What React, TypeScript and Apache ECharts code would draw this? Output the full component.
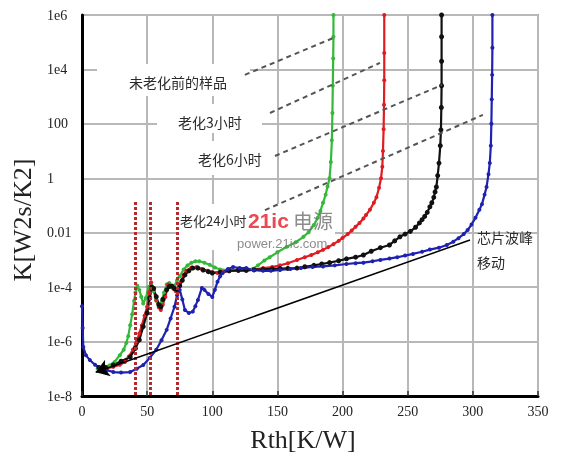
import React, { useEffect, useRef } from "react";
import * as echarts from "echarts";

// x: Rth [K/W], y: log10 of K [W2s/K2]
const yTickLabels = ["1e-8", "1e-6", "1e-4", "0.01", "1", "100", "1e4", "1e6"];

const greenLogK: number[][] = [
  [12, -7.0], [15, -6.97], [18, -6.93], [21, -6.88], [25, -6.75], [29, -6.5], [32, -6.3], [34, -6.05],
  [35.5, -5.8], [37, -5.4], [38.5, -5.0], [40, -4.5], [41, -4.2], [42.5, -3.95], [44, -4.1], [45.5, -4.35],
  [47, -4.6], [49, -4.4], [51, -4.0], [53, -3.88], [55, -4.15], [57, -4.5], [59, -4.7], [61, -4.55],
  [63, -4.2], [65, -3.9], [67, -3.85], [69, -4.0], [71, -3.95], [73, -3.75], [75, -3.6], [78, -3.35],
  [81, -3.2], [84, -3.1], [87, -3.05], [90, -3.05], [94, -3.1], [98, -3.18], [102, -3.28], [106, -3.35],
  [113, -3.38], [120, -3.38], [126, -3.37], [131, -3.33], [135, -3.2], [140, -3.02], [144, -2.9],
  [150, -2.72], [157, -2.52], [164, -2.35], [170, -2.15], [174, -1.98], [178, -1.72], [181, -1.45],
  [183, -1.2], [185, -0.9], [187, -0.6], [188.5, -0.3], [190, 0], [191, 0.6], [191.8, 1.4], [192.2, 2.4],
  [192.5, 3.4], [192.8, 4.4], [193, 5.2], [193, 6],
];

const redLogK: number[][] = [
  [14, -7.0], [19, -6.98], [24, -6.93], [29, -6.85], [33, -6.75], [36, -6.55], [39, -6.3], [42, -6.0],
  [44, -5.7], [46, -5.4], [48, -5.05], [50, -4.72], [51.5, -4.2], [53, -3.82], [55, -4.05], [57, -4.47],
  [59, -4.75], [60.5, -4.84], [62, -4.65], [64, -4.36], [66, -3.9], [68, -3.95], [70, -4.05], [72, -4.15],
  [74, -4.05], [76, -3.8], [78, -3.55], [80, -3.4], [84, -3.28], [88, -3.26], [92, -3.33], [96, -3.4],
  [100, -3.45], [104, -3.48], [108, -3.45], [113, -3.4], [120, -3.4], [126, -3.4], [132, -3.36],
  [139, -3.3], [146, -3.26], [152, -3.2], [158, -3.12], [165, -3.0], [171, -2.9], [176, -2.82],
  [181, -2.72], [185, -2.63], [189, -2.53], [193, -2.42], [197, -2.3], [200, -2.19], [204, -2.05],
  [207, -1.92], [210, -1.78], [213, -1.64], [216, -1.48], [218, -1.35], [221, -1.16], [224, -0.9],
  [226, -0.7], [228, -0.35], [229.5, 0], [230.5, 0.42], [231, 1.0], [231.5, 1.8], [231.8, 2.7],
  [232, 3.6], [232, 4.6], [232, 6],
];

const blackLogK: number[][] = [
  [13, -6.95], [18, -6.95], [24, -6.86], [30, -6.72], [37, -6.57], [41, -6.25], [44, -5.94], [47, -5.45],
  [50, -4.95], [52, -4.4], [53.5, -4.0], [55, -4.05], [57, -4.35], [59, -4.65], [60.5, -4.72], [62, -4.45],
  [65, -4.1], [67, -3.98], [69, -3.96], [71, -4.05], [73, -4.1], [75, -3.95], [77, -3.75], [79, -3.55],
  [82, -3.4], [85, -3.3], [89, -3.3], [93, -3.37], [97, -3.43], [100, -3.48], [106, -3.45], [113, -3.4],
  [120, -3.38], [126, -3.38], [132, -3.36], [139, -3.35], [146, -3.33], [152, -3.32], [158, -3.31],
  [165, -3.3], [171, -3.25], [178, -3.2], [184, -3.15], [190, -3.1], [197, -3.03], [203, -2.96],
  [210, -2.9], [216, -2.82], [222, -2.68], [229, -2.55], [236, -2.45], [240, -2.3], [244, -2.15],
  [248, -2.05], [252, -1.95], [256, -1.8], [259, -1.64], [261, -1.52], [263, -1.4], [265, -1.25],
  [267, -1.05], [268.5, -0.9], [270, -0.7], [271, -0.5], [272, -0.32], [273, 0.1], [274, 0.56],
  [275, 1.2], [275.5, 1.78], [275.8, 2.6], [276, 3.4], [276, 4.3], [276, 5.2], [276, 6],
];

const blueLogK: number[][] = [
  [0, -4.7], [0.5, -5.5], [1, -6.2], [3, -6.5], [6, -6.68], [10, -6.85], [14, -6.97], [19, -7.05],
  [24, -7.12], [30, -7.14], [37, -7.12], [42, -7.0], [47, -6.86], [52, -6.6], [57, -6.3], [61, -5.95],
  [65, -5.57], [68, -5.15], [71, -4.72], [73, -4.3], [75, -4.1], [77, -4.45], [79, -4.84], [82, -4.95],
  [85, -4.9], [87, -4.7], [89, -4.47], [92, -4.03], [94, -4.1], [97, -4.25], [100, -4.36], [102, -4.1],
  [104, -3.8], [106, -3.6], [108, -3.48], [112, -3.33], [116, -3.26], [121, -3.3], [126, -3.3],
  [132, -3.38], [139, -3.4], [145, -3.4], [152, -3.37], [160, -3.33], [168, -3.3], [177, -3.26],
  [185, -3.24], [194, -3.2], [203, -3.15], [210, -3.12], [216, -3.1], [223, -3.05], [229, -3.0],
  [236, -2.95], [242, -2.9], [248, -2.84], [254, -2.78], [261, -2.7], [267, -2.62], [274, -2.55],
  [280, -2.45], [285, -2.33], [289, -2.2], [293, -2.05], [296, -1.9], [299, -1.7], [302, -1.45],
  [305, -1.16], [307, -0.95], [309, -0.6], [310.5, -0.32], [312, 0.15], [313, 0.56], [313.8, 1.2],
  [314.2, 2], [314.5, 2.9], [314.8, 3.8], [315, 4.8], [315, 6],
];

// annotation geometry in data units (x, log10 K)
const peakLinesX = [40.7, 52.2, 73.4];
const peakLineSpan = [-0.87, -8];
const leaderLines: number[][][] = [
  [[125, 3.8], [192.6, 5.15]],
  [[144.3, 2.4], [228.7, 4.24]],
  [[148.1, 0.82], [276.3, 3.43]],
  [[140.4, -1.17], [307.7, 2.33]],
];
const shiftArrow: number[][] = [[297.8, -2.27], [10.5, -7.13]];

const serif = '"Liberation Serif", "DejaVu Serif", serif';
const cjk = '"Noto Sans CJK SC", "Noto Sans", sans-serif';

function curve(name: string, data: number[][], color: string, size: number) {
  return {
    type: "line",
    name,
    data,
    showSymbol: true,
    symbol: "circle",
    symbolSize: size,
    lineStyle: { color, width: 2.2 },
    itemStyle: { color },
    silent: true,
    z: 3,
  };
}

export default function App() {
  const ref = useRef<HTMLDivElement>(null);
  useEffect(() => {
    document.body.style.margin = "0";
    const chart = echarts.init(ref.current!, null, { renderer: "svg" });
    const labelText = (text: string, x: number, y: number, size = 14) => ({
      type: "text",
      x,
      y,
      z: 10,
      style: { text, fill: "#2a2a2a", font: `${size}px ${cjk}`, align: "left", verticalAlign: "middle" },
    });
    const box = (x: number, y: number, w: number, h: number) => ({
      type: "rect",
      z: 1,
      shape: { x, y, width: w, height: h },
      style: { fill: "#ffffff" },
    });
    chart.setOption({
      animation: false,
      grid: { left: 82, right: 30, top: 15, bottom: 59, show: true, borderColor: "#555", borderWidth: 1.5 },
      xAxis: {
        type: "value",
        min: 0,
        max: 350,
        interval: 50,
        axisLine: { onZero: false, lineStyle: { color: "#000", width: 3 } },
        axisTick: { show: true, inside: true, length: 5, lineStyle: { color: "#333", width: 1.5 } },
        splitLine: { show: true, lineStyle: { color: "#b8b8b8", width: 2 } },
        axisLabel: { fontSize: 14, fontFamily: serif, color: "#222", margin: 8 },
      },
      yAxis: {
        type: "value",
        min: -8,
        max: 6,
        interval: 2,
        axisLine: { onZero: false, lineStyle: { color: "#000", width: 3 } },
        axisTick: { show: false },
        splitLine: { show: true, lineStyle: { color: "#b8b8b8", width: 2 } },
        axisLabel: {
          fontSize: 14,
          fontFamily: serif,
          color: "#222",
          align: "left",
          margin: 35,
          formatter: (v: number) => yTickLabels[Math.round((v + 8) / 2)] ?? "",
        },
      },
      series: [
        curve("未老化前的样品", greenLogK, "#34b83a", 4),
        curve("老化3小时", redLogK, "#e01b22", 4),
        curve("老化6小时", blackLogK, "#111111", 5),
        curve("老化24小时", blueLogK, "#1f22b0", 4),
        {
          type: "line",
          data: [],
          silent: true,
          z: 4,
          markLine: {
            silent: true,
            symbol: ["none", "none"],
            label: { show: false },
            lineStyle: { color: "#b52a2a", width: 3, type: [3, 2] },
            data: peakLinesX.map((x) => [{ coord: [x, peakLineSpan[0]] }, { coord: [x, peakLineSpan[1]] }]),
          },
        },
        {
          type: "line",
          data: [],
          silent: true,
          z: 4,
          markLine: {
            silent: true,
            symbol: ["none", "none"],
            label: { show: false },
            lineStyle: { color: "#555", width: 2, type: [5, 4] },
            data: leaderLines.map((l) => [{ coord: l[0] }, { coord: l[1] }]),
          },
        },
        {
          type: "line",
          data: [],
          silent: true,
          z: 5,
          markLine: {
            silent: true,
            symbol: ["none", "arrow"],
            symbolSize: 13,
            label: { show: false },
            lineStyle: { color: "#000", width: 1.5, type: "solid" },
            data: [[{ coord: shiftArrow[0] }, { coord: shiftArrow[1] }]],
          },
        },
      ],
      graphic: [
        box(97, 64, 153, 32),
        box(157, 104, 105, 29),
        box(188, 141, 80, 34),
        box(176, 204, 159, 46),
        labelText("未老化前的样品", 129, 82),
        labelText("老化3小时", 178, 122),
        labelText("老化6小时", 198, 159),
        labelText("老化24小时", 180, 220, 13),
        labelText("芯片波峰", 477, 237),
        labelText("移动", 477, 262),
        {
          type: "text",
          x: 248,
          y: 220,
          z: 20,
          style: {
            text: "21ic",
            fill: "rgba(232,40,52,0.85)",
            font: 'bold 21px "Liberation Sans", sans-serif',
            align: "left",
            verticalAlign: "middle",
          },
        },
        {
          type: "text",
          x: 293,
          y: 220,
          z: 20,
          style: {
            text: "电源",
            fill: "rgba(120,120,120,0.85)",
            font: `20px ${cjk}`,
            align: "left",
            verticalAlign: "middle",
          },
        },
        {
          type: "text",
          x: 237,
          y: 243,
          z: 20,
          style: {
            text: "power.21ic.com",
            fill: "rgba(120,120,120,0.85)",
            font: '13px "Liberation Sans", sans-serif',
            align: "left",
            verticalAlign: "middle",
          },
        },
        {
          type: "text",
          x: 22,
          y: 220,
          rotation: Math.PI / 2,
          z: 10,
          style: {
            text: "K[W2s/K2]",
            fill: "#222",
            font: `26px ${serif}`,
            align: "center",
            verticalAlign: "middle",
          },
        },
        {
          type: "text",
          x: 303,
          y: 439,
          z: 10,
          style: {
            text: "Rth[K/W]",
            fill: "#222",
            font: `26px ${serif}`,
            align: "center",
            verticalAlign: "middle",
          },
        },
      ],
    });
    return () => chart.dispose();
  }, []);
  return <div ref={ref} style={{ position: "fixed", left: 0, top: 0, width: 568, height: 455 }} />;
}
